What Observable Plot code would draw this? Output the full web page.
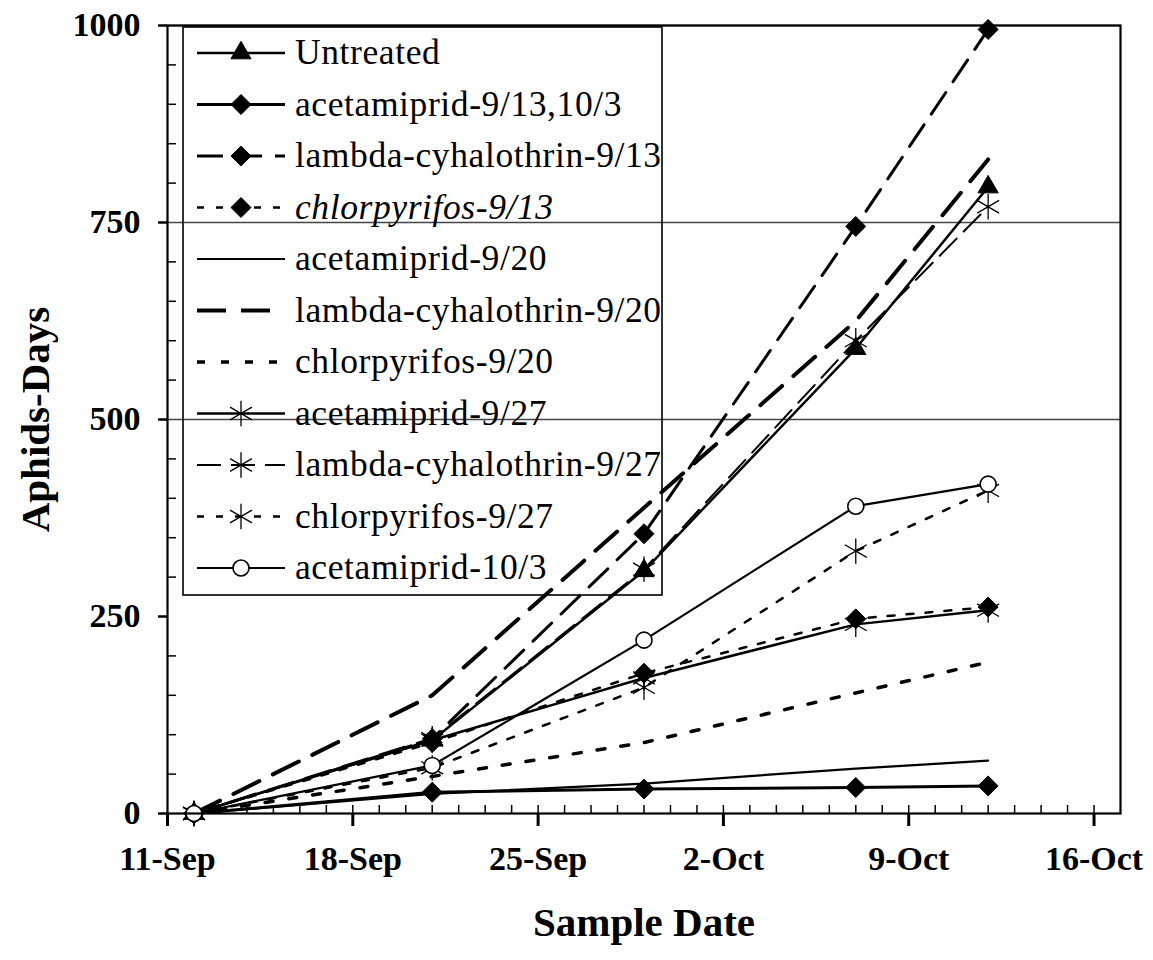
<!DOCTYPE html>
<html>
<head>
<meta charset="utf-8">
<script src="https://cdn.jsdelivr.net/npm/d3@7"></script>
<script src="https://cdn.jsdelivr.net/npm/@observablehq/plot@0.6"></script>
<style>
  body { margin: 0; background: #fff; }
  #chart svg { display: block; }
</style>
</head>
<body>
<div id="chart"></div>
<script>
// ---------- data ----------
const sampleDates = ["2007-09-12", "2007-09-21", "2007-09-29", "2007-10-07", "2007-10-12"];

const seriesNames = [
  "Untreated",
  "acetamiprid-9/13,10/3",
  "lambda-cyhalothrin-9/13",
  "chlorpyrifos-9/13",
  "acetamiprid-9/20",
  "lambda-cyhalothrin-9/20",
  "chlorpyrifos-9/20",
  "acetamiprid-9/27",
  "lambda-cyhalothrin-9/27",
  "chlorpyrifos-9/27",
  "acetamiprid-10/3"
];

const untreated         = [0, 93, 308, 590, 795];
const acetamiprid913103 = [0, 27, 31, 33, 35];
const lambda913         = [0, 95, 355, 745, 995];
const chlorpyrifos913   = [0, 90, 178, 247, 262];
const acetamiprid920    = [0, 25, 38, 57, 67];
const lambda920         = [0, 150, 388, 625, 830];
const chlorpyrifos920   = [0, 47, 90, 153, 192];
const acetamiprid927    = [0, 93, 172, 240, 258];
const lambda927         = [0, 95, 310, 600, 770];
const chlorpyrifos927   = [0, 58, 160, 333, 410];
const acetamiprid103    = [0, 61, 220, 390, 418];

const seriesValues = [
  untreated, acetamiprid913103, lambda913, chlorpyrifos913,
  acetamiprid920, lambda920, chlorpyrifos920,
  acetamiprid927, lambda927, chlorpyrifos927, acetamiprid103
];

const xTickDates  = ["2007-09-11", "2007-09-18", "2007-09-25", "2007-10-02", "2007-10-09", "2007-10-16"];
const xTickLabels = ["11-Sep", "18-Sep", "25-Sep", "2-Oct", "9-Oct", "16-Oct"];
const xDomain     = ["2007-09-11", "2007-10-17"];
const yTicks      = [0, 250, 500, 750, 1000];
const yTickLabels = ["0", "250", "500", "750", "1000"];
const yGridValues = [500, 750, 1000];

// ---------- styles ----------
const seriesStyle = {
  "Untreated":               {symbol: "triangle", dash: null,    width: 2.5},
  "acetamiprid-9/13,10/3":   {symbol: "diamond2", dash: null,    width: 3},
  "lambda-cyhalothrin-9/13": {symbol: "diamond2", dash: "26,13", width: 3},
  "chlorpyrifos-9/13":       {symbol: "diamond2", dash: "7,12",  width: 2.5, italic: true},
  "acetamiprid-9/20":        {symbol: null,       dash: null,    width: 2.2},
  "lambda-cyhalothrin-9/20": {symbol: null,       dash: "29,15", width: 4},
  "chlorpyrifos-9/20":       {symbol: null,       dash: "8,16",  width: 3.5},
  "acetamiprid-9/27":        {symbol: "asterisk", dash: null,    width: 2.5},
  "lambda-cyhalothrin-9/27": {symbol: "asterisk", dash: "24,10", width: 2},
  "chlorpyrifos-9/27":       {symbol: "asterisk", dash: "7,12",  width: 2.5},
  "acetamiprid-10/3":        {symbol: "circle",   dash: null,    width: 2.2}
};
const symbolR = {triangle: 7.5, diamond2: 9, asterisk: 12, circle: 8};
const d3Symbols = {triangle: d3.symbolTriangle, diamond2: d3.symbolDiamond2, asterisk: d3.symbolAsterisk, circle: d3.symbolCircle};

function markerStyle(sym) {
  if (sym === "asterisk") return {fill: "none", stroke: "black", strokeWidth: 1.3};
  if (sym === "circle") return {fill: "white", stroke: "black", strokeWidth: 1.6};
  return {fill: "black", stroke: "black", strokeWidth: 1};
}

// ---------- build table ----------
const parse = d3.utcParse("%Y-%m-%d");
const rows = [];
seriesNames.forEach((name, si) => {
  seriesValues[si].forEach((v, di) => rows.push({series: name, date: parse(sampleDates[di]), value: v}));
});

const lineMarks = seriesNames.map(name => {
  const st = seriesStyle[name];
  return Plot.line(rows.filter(r => r.series === name), {
    x: "date", y: "value", stroke: "black",
    strokeWidth: st.width, strokeDasharray: st.dash ?? undefined
  });
});
const dotMarks = seriesNames.filter(n => seriesStyle[n].symbol).map(name => {
  const sym = seriesStyle[name].symbol;
  return Plot.dot(rows.filter(r => r.series === name), {
    x: "date", y: "value", symbol: () => sym, r: symbolR[sym], ...markerStyle(sym)
  });
});

const W = 1153, H = 960;
const mL = 167, mR = 33, mT = 25, mB = 147;
const innerW = W - mL - mR, innerH = H - mT - mB;

const xMinor = d3.utcDay.range(parse("2007-09-12"), parse("2007-10-17"));
const yMinor = d3.range(50, 1000, 50).filter(v => v % 250 !== 0);

const chart = Plot.plot({
  width: W, height: H,
  marginLeft: mL, marginRight: mR, marginTop: mT, marginBottom: mB,
  style: {fontFamily: "'Liberation Serif', 'Times New Roman', serif", fontSize: "34px", fontWeight: "bold", color: "black", background: "white"},
  x: {type: "utc", domain: xDomain.map(parse)},
  y: {domain: [0, 1000]},
  symbol: {type: "identity"},
  marks: [
    Plot.ruleY(yGridValues, {stroke: "#444", strokeWidth: 1.6}),
    Plot.ruleX(xMinor, {x: d => d, stroke: "black", strokeWidth: 1.5, insetTop: innerH - 8}),
    Plot.ruleY(yMinor, {y: d => d, stroke: "black", strokeWidth: 1.5, insetRight: innerW - 9}),
    Plot.axisX({
      ticks: xTickDates.map(parse), tickSize: 13, tickPadding: 19, strokeWidth: 3,
      tickFormat: d => xTickLabels[xTickDates.indexOf(d3.utcFormat("%Y-%m-%d")(d))],
      label: null, fontSize: 34, fontWeight: "bold"
    }),
    Plot.axisY({
      ticks: yTicks, tickSize: 9, tickPadding: 18, strokeWidth: 2.5,
      tickFormat: d => yTickLabels[yTicks.indexOf(d)],
      label: null, fontSize: 34, fontWeight: "bold"
    }),
    ...lineMarks,
    ...dotMarks,
    Plot.frame({stroke: "black", strokeWidth: 2.2}),
    Plot.text(["Sample Date"], {text: d => d, frameAnchor: "bottom", dy: 122, fontSize: 41, fontWeight: "bold", textAnchor: "middle"}),
    Plot.text(["Aphids-Days"], {text: d => d, frameAnchor: "left", dx: -132, rotate: -90, fontSize: 41, fontWeight: "bold", textAnchor: "middle"})
  ]
});

// ---------- legend (inside plot area, transparent box) ----------
const svg = d3.select(chart);
const lg = svg.append("g")
  .attr("font-family", "'Liberation Serif', 'Times New Roman', serif")
  .attr("font-weight", "normal")
  .attr("font-size", 35.5)
  .attr("letter-spacing", "0.6px")
  .attr("text-anchor", "start")
  .attr("fill", "black");
lg.append("rect")
  .attr("x", 183).attr("y", 27).attr("width", 479).attr("height", 568)
  .attr("fill", "none").attr("stroke", "black").attr("stroke-width", 1.6);
seriesNames.forEach((name, i) => {
  const st = seriesStyle[name];
  const y = 53 + 51.5 * i;
  const ln = lg.append("line")
    .attr("x1", 197).attr("x2", 285).attr("y1", y).attr("y2", y)
    .attr("stroke", "black").attr("stroke-width", st.width);
  if (st.dash) ln.attr("stroke-dasharray", st.dash);
  if (st.symbol) {
    const ms = markerStyle(st.symbol);
    const r = symbolR[st.symbol];
    lg.append("path")
      .attr("d", d3.symbol(d3Symbols[st.symbol], Math.PI * r * r)())
      .attr("transform", `translate(241,${y})`)
      .attr("fill", ms.fill).attr("stroke", ms.stroke).attr("stroke-width", ms.strokeWidth);
  }
  const t = lg.append("text")
    .attr("x", 295).attr("y", y).attr("dy", "0.32em")
    .attr("text-anchor", "start")
    .text(name);
  if (st.italic) t.attr("font-style", "italic");
});

document.getElementById("chart").appendChild(chart);
</script>
</body>
</html>
